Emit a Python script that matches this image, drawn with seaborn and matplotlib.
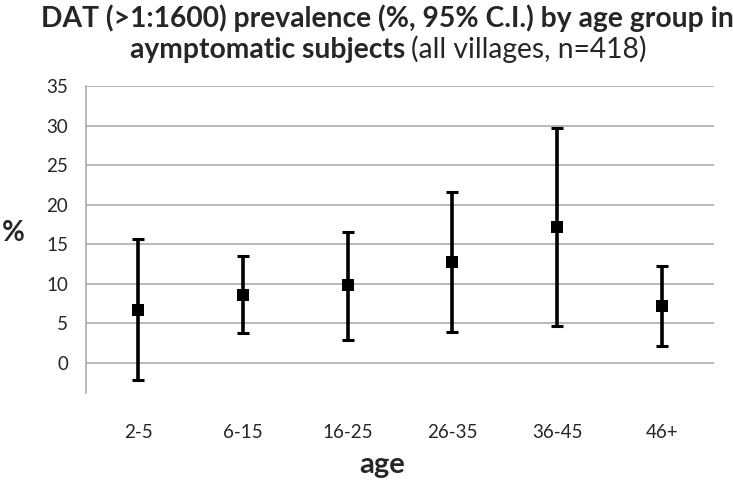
import matplotlib
matplotlib.use("Agg")
import matplotlib.pyplot as plt
import seaborn as sns
import numpy as np
import pandas as pd

age_groups = ["2-5", "6-15", "16-25", "26-35", "36-45", "46+"]
prevalence = [6.7, 8.6, 9.8, 12.8, 17.2, 7.2]
ci_lower = [-2.2, 3.8, 2.9, 3.9, 4.7, 2.1]
ci_upper = [15.7, 13.5, 16.6, 21.6, 29.7, 12.3]
y_ticks = [0, 5, 10, 15, 20, 25, 30, 35]

sns.set_theme(style="white")
plt.rcParams['font.family'] = ['Lato', 'DejaVu Sans']

df = pd.DataFrame({"age": age_groups, "prev": prevalence})

W, H = 733, 480
fig = plt.figure(figsize=(W / 100, H / 100), dpi=100)
ax = fig.add_axes([86/W, 87/H, 628/W, 307/H])

pos = np.arange(len(age_groups))
yerr = [np.array(prevalence) - np.array(ci_lower), np.array(ci_upper) - np.array(prevalence)]
ax.errorbar(pos, prevalence, yerr=yerr, fmt='none', ecolor='black',
            elinewidth=2.6, capsize=4.5, capthick=2.2, zorder=3)
sns.scatterplot(data=df, x="age", y="prev", marker='s', s=85, color='black',
                edgecolor='black', linewidth=0, ax=ax, zorder=4)

ax.set_xlim(-0.5, len(age_groups) - 0.5)
ax.set_ylim(-3.8, 35)
ax.set_yticks(y_ticks)
ax.set_yticklabels([str(t) for t in y_ticks], fontsize=13.5)
ax.set_xticks(pos)
ax.set_xticklabels(age_groups, fontsize=13.5)
ax.tick_params(axis='x', length=0, pad=22)
ax.tick_params(axis='y', length=0, pad=13)
for t in y_ticks:
    ax.axhline(t, color='#a6a6a6', lw=1.1, zorder=1)
for s in ['top', 'right', 'bottom']:
    ax.spines[s].set_visible(False)
ax.spines['left'].set_color('#a6a6a6')
ax.spines['left'].set_linewidth(1.1)

ax.set_xlabel("")
ax.set_ylabel("")
fig.text(382/W, 1 - 473/H, "age", fontsize=21, fontweight='bold', ha='center', va='baseline')
fig.text(13/W, 1 - 241/H, "%", fontsize=20, fontweight='bold', ha='center', va='baseline')

fig.text(387/W, 1 - 27/H, "DAT (>1:1600) prevalence (%, 95% C.I.) by age group in",
         fontsize=20.3, fontweight='bold', ha='center', va='baseline')
t1 = fig.text(130/W, 1 - 58/H, "aymptomatic subjects", fontsize=20.3, fontweight='bold',
              ha='left', va='baseline')
fig.canvas.draw()
bb = t1.get_window_extent()
fig.text((bb.x1 + 6) / W, 1 - 58/H, "(all villages, n=418)", fontsize=20.3,
         ha='left', va='baseline')

fig.savefig("out.png", dpi=100)
